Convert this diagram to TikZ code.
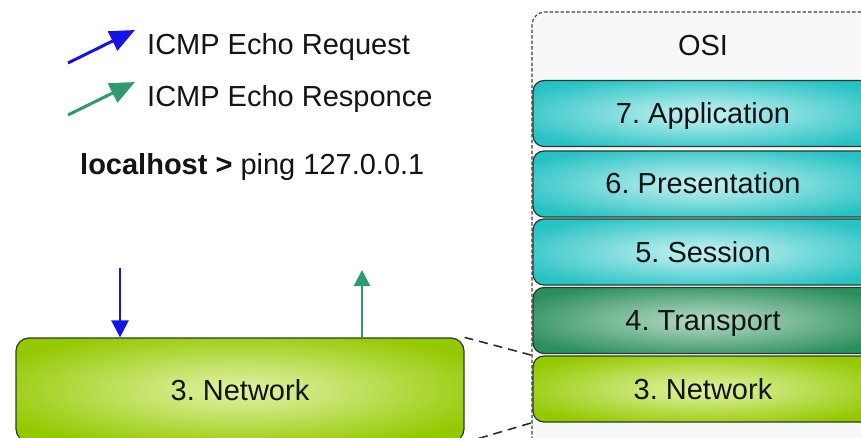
\documentclass[tikz,border=0pt]{standalone}
\usepackage{fontspec}
\setmainfont{Liberation Sans}
\usetikzlibrary{arrows.meta}

\definecolor{reqblue}{HTML}{1414E6}
\definecolor{respgreen}{HTML}{2E9A6E}
\definecolor{cyanout}{HTML}{27C2C4}
\definecolor{cyanin}{HTML}{C6F1F1}
\definecolor{tranout}{HTML}{2B8E5E}
\definecolor{tranin}{HTML}{B4DAC2}
\definecolor{netout}{HTML}{94C800}
\definecolor{netin}{HTML}{E0F2A4}
\definecolor{boxedge}{HTML}{2B3B2B}
\definecolor{osifill}{HTML}{F8F8F8}
\definecolor{labeltext}{HTML}{141414}

% soft central glow for the layer boxes
\pgfdeclareradialshading{cyanglow}{\pgfpoint{0bp}{0bp}}{color(0bp)=(cyanin); color(10bp)=(cyanin!70!cyanout); color(30bp)=(cyanout); color(50bp)=(cyanout)}
\pgfdeclareradialshading{tranglow}{\pgfpoint{0bp}{0bp}}{color(0bp)=(tranin); color(10bp)=(tranin!70!tranout); color(30bp)=(tranout); color(50bp)=(tranout)}
\pgfdeclareradialshading{netglow}{\pgfpoint{0bp}{0bp}}{color(0bp)=(netin); color(10bp)=(netin!70!netout); color(30bp)=(netout); color(50bp)=(netout)}

\begin{document}
\begin{tikzpicture}[x=1pt,y=-1pt,
  every node/.style={font=\fontsize{29}{34}\selectfont\frenchspacing, text=labeltext},
  layerbox/.style={draw=boxedge, line width=1.2pt, rounded corners=11pt,
    minimum width=340pt, minimum height=66pt, inner sep=0pt,
    text height=20pt, text depth=0pt},
  upper/.style={layerbox, shading=cyanglow},
  transport/.style={layerbox, shading=tranglow},
  network/.style={layerbox, shading=netglow},
  osibox/.style={draw=gray!50!black, fill=osifill, line width=1.1pt,
    dash pattern=on 3.5pt off 2pt, rounded corners=13pt, inner sep=0pt},
  connector/.style={draw=gray!35!black, line width=1.6pt, dash pattern=on 9pt off 6pt},
  reqarrow/.style={draw=reqblue, line width=2.4pt, -{Triangle[length=17pt,width=17pt]}},
  resparrow/.style={draw=respgreen, line width=2.4pt, -{Triangle[length=16pt,width=16pt]}},
  legreq/.style={draw=reqblue, line width=3pt, -{Triangle[length=25pt,width=21pt]}},
  legresp/.style={draw=respgreen, line width=3pt, -{Triangle[length=25pt,width=21pt]}},
  plain/.style={inner sep=0pt, anchor=base west}
]
\useasboundingbox (0,0) rectangle (861,438);
\clip (0,0) rectangle (861,438);
\fill[white] (0,0) rectangle (861,438);

% legend
\coordinate (reqfrom) at (68,63);
\coordinate (reqto) at (135,30);
\coordinate (respfrom) at (68,115);
\coordinate (respto) at (135,82);
\draw[legreq] (reqfrom) -- (reqto);
\draw[legresp] (respfrom) -- (respto);
\node[plain] (reqtext) at (147,55) {ICMP Echo Request};
\node[plain] (resptext) at (147,107) {ICMP Echo Responce};
\node[plain] (cmd) at (80,175) {\textbf{localhost >} ping 127.0.0.1};

% OSI stack
\node[osibox, minimum width=353pt, minimum height=443pt] (osi) at (708.5,233.5) {};
\node[inner sep=0pt, text height=20pt, text depth=0pt] (osititle) at (703,46) {OSI};
\node[upper] (app) at (703,113.5) {7. Application};
\node[upper] (pres) at (703,184) {6. Presentation};
\node[upper] (sess) at (703,252) {5. Session};
\node[transport] (trans) at (703,320.5) {4. Transport};
\node[network] (onet) at (703,389) {3. Network};

% enlarged network layer
\node[network, minimum width=448pt, minimum height=104pt, rounded corners=13pt] (lnet) at (240,390) {3. Network};

\draw[connector] (lnet.north east) -- (onet.north west);
\draw[connector] (lnet.south east) -- (onet.south west);

% request down, response up
\coordinate (reqstart) at (120,268);
\coordinate (respend) at (362,270);
\draw[reqarrow] (reqstart) -- (reqstart |- lnet.north);
\draw[resparrow] (respend |- lnet.north) -- (respend);
\end{tikzpicture}
\end{document}
